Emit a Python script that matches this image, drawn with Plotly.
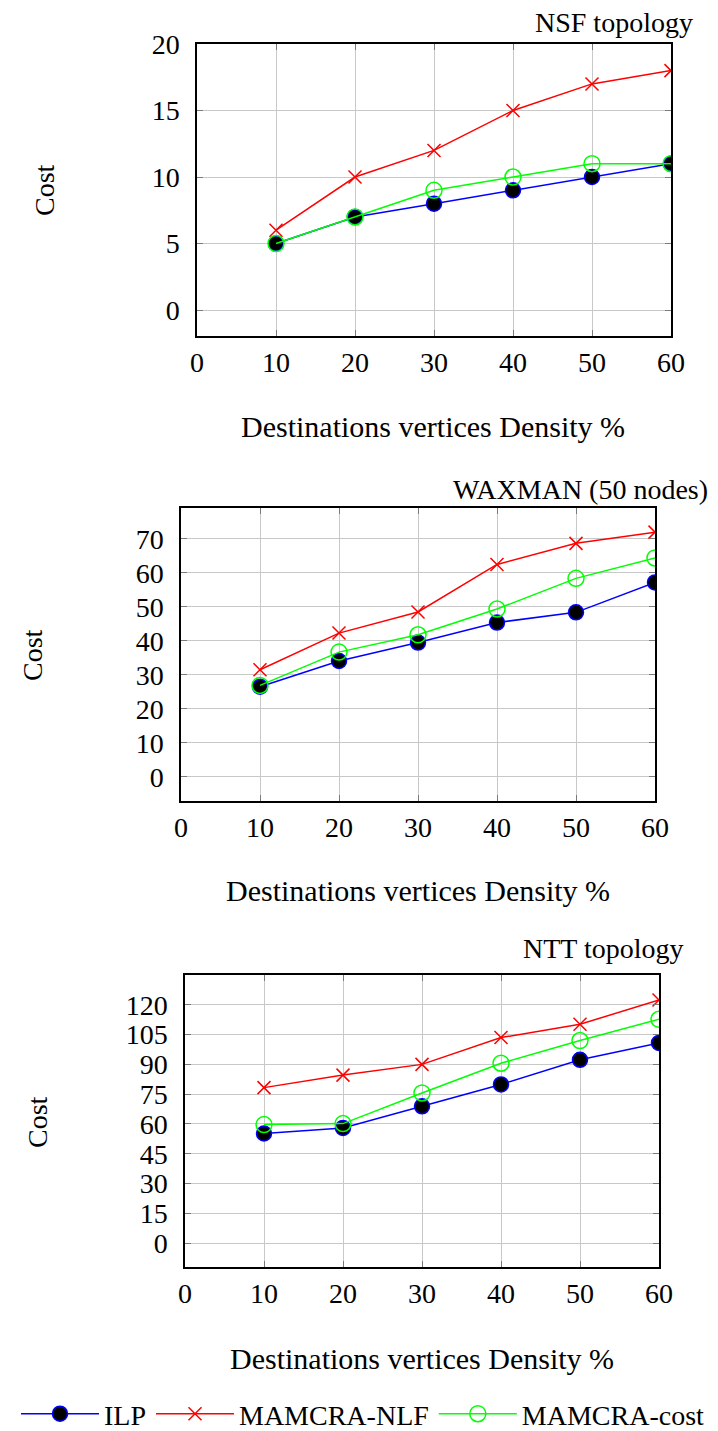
import plotly.graph_objects as go

# ---- data ----
x_density = [10, 20, 30, 40, 50, 60]

nsf_ilp = [5, 7, 8, 9, 10, 11]
nsf_nlf = [6, 10, 12, 15, 17, 18]
nsf_cost = [5, 7, 9, 10, 11, 11]

wax_ilp = [26.5, 34.1, 39.5, 45.4, 48.4, 57.2]
wax_nlf = [31.5, 42.3, 48.5, 62.5, 68.7, 72.0]
wax_cost = [26.9, 36.7, 41.8, 49.4, 58.4, 64.4]

ntt_ilp = [55.2, 58.0, 68.9, 79.9, 92.3, 100.8]
ntt_nlf = [78.3, 84.6, 90.0, 103.5, 110.2, 122.4]
ntt_cost = [59.7, 60.2, 75.6, 90.6, 102.0, 112.7]

series_names = ["ILP", "MAMCRA-NLF", "MAMCRA-cost"]
titles = ["NSF topology", "WAXMAN (50 nodes)", "NTT topology"]
x_title = "Destinations vertices Density %"
y_title = "Cost"

x_ticks = [0, 10, 20, 30, 40, 50, 60]
nsf_yticks = [0, 5, 10, 15, 20]
wax_yticks = [0, 10, 20, 30, 40, 50, 60, 70]
ntt_yticks = [0, 15, 30, 45, 60, 75, 90, 105, 120]

# ---- styling ----
W, H = 718, 1431
OFF = 8  # page body margin offset
FONT = "Liberation Serif"
FS = 28
BLUE, RED, GREEN = "#0000ff", "#ff0000", "#00ff00"


def px_x(p):
    return (p - OFF) / W


def px_y(p):
    return 1 - (p - OFF) / H


fig = go.Figure()

panels = [
    (nsf_ilp, nsf_nlf, nsf_cost, nsf_yticks, [-1.95, 20],
     (197, 671), (44, 336)),
    (wax_ilp, wax_nlf, wax_cost, wax_yticks, [-7.1, 79.1],
     (181, 655), (508, 801)),
    (ntt_ilp, ntt_nlf, ntt_cost, ntt_yticks, [-12, 135],
     (185, 659), (975, 1267)),
]

for i, (ilp, nlf, cost, yt, yr, xd, yd) in enumerate(panels):
    k = "" if i == 0 else str(i + 1)
    xa, ya = "x" + k, "y" + k
    show = i == 0
    fig.add_trace(go.Scatter(
        x=x_density, y=ilp, mode="lines+markers", name=series_names[0],
        xaxis=xa, yaxis=ya, showlegend=show, legendgroup="ilp",
        line=dict(color=BLUE, width=1.5),
        marker=dict(symbol="circle", size=15, color="black",
                    line=dict(color=BLUE, width=1.5))))
    fig.add_trace(go.Scatter(
        x=x_density, y=nlf, mode="lines+markers", name=series_names[1],
        xaxis=xa, yaxis=ya, showlegend=show, legendgroup="nlf",
        line=dict(color=RED, width=1.5),
        marker=dict(symbol="x-thin", size=13, color=RED,
                    line=dict(color=RED, width=1.5))))
    fig.add_trace(go.Scatter(
        x=x_density, y=cost, mode="lines+markers", name=series_names[2],
        xaxis=xa, yaxis=ya, showlegend=show, legendgroup="cost",
        line=dict(color=GREEN, width=1.5),
        marker=dict(symbol="circle-open", size=16, color=GREEN,
                    line=dict(color=GREEN, width=1.5))))

    common = dict(showline=True, linecolor="black", linewidth=1.5,
                  mirror="ticks", ticks="inside", ticklen=6,
                  tickcolor="#7a7a7a", tickwidth=1,
                  showgrid=True, gridcolor="#c8c8c8", gridwidth=1,
                  zeroline=False, automargin=False,
                  tickfont=dict(family=FONT, size=FS, color="black"))
    fig.update_layout(**{
        "xaxis" + k: dict(domain=[px_x(xd[0]), px_x(xd[1])], anchor=ya,
                          range=[0, 60], tickvals=x_ticks,
                          ticklabelstandoff=1, **common),
        "yaxis" + k: dict(domain=[px_y(yd[1]), px_y(yd[0])], anchor=xa,
                          range=yr, tickvals=yt,
                          ticklabelstandoff=10, **common),
    })

annotations = []
title_pos = [(695, 22), (710, 489), (685, 948)]
xlab_pos = [(433, 427), (418, 890), (422, 1358)]
ylab_pos = [(45, 190), (32, 655), (37, 1122)]
for t, (tx, ty), (lx, ly), (cx, cy) in zip(titles, title_pos, xlab_pos, ylab_pos):
    annotations.append(dict(text=t, x=px_x(tx), y=px_y(ty), xref="paper",
                            yref="paper", xanchor="right", yanchor="middle",
                            showarrow=False,
                            font=dict(family=FONT, size=FS, color="black")))
    annotations.append(dict(text=x_title, x=px_x(lx), y=px_y(ly), xref="paper",
                            yref="paper", xanchor="center", yanchor="middle",
                            showarrow=False,
                            font=dict(family=FONT, size=30, color="black")))
    annotations.append(dict(text=y_title, x=px_x(cx), y=px_y(cy), xref="paper",
                            yref="paper", xanchor="center", yanchor="middle",
                            textangle=-90, showarrow=False,
                            font=dict(family=FONT, size=FS, color="black")))

fig.update_layout(
    width=W, height=H,
    margin=dict(l=0, r=0, t=0, b=0, autoexpand=False),
    paper_bgcolor="white", plot_bgcolor="white",
    annotations=annotations,
    showlegend=True,
    legend=dict(orientation="h", x=px_x(363), xanchor="center", y=px_y(1414),
                yanchor="middle", font=dict(family=FONT, size=FS, color="black"),
                bgcolor="rgba(0,0,0,0)", itemwidth=78, tracegroupgap=0),
)

fig.write_html("out.html")
